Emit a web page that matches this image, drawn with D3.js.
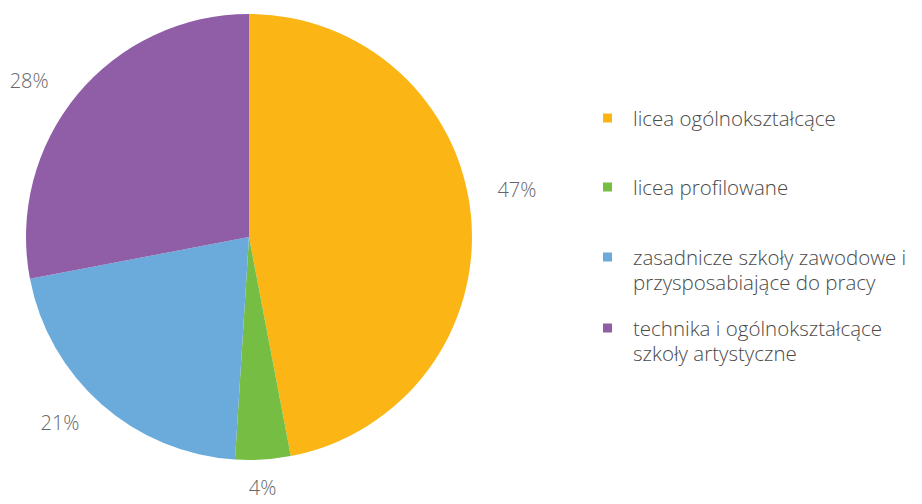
<!DOCTYPE html>
<html>
<head>
<meta charset="utf-8">
<script src="https://cdn.jsdelivr.net/npm/d3@7"></script>
<style>
  html, body { margin: 0; padding: 0; background: #fff; }
  svg { display: block; }
</style>
</head>
<body>
<svg id="chart" width="922" height="504"></svg>
<script>
// School types and their share of students (%)
const categories = [
  "licea ogólnokształcące",
  "licea profilowane",
  "zasadnicze szkoły zawodowe i przysposabiające do pracy",
  "technika i ogólnokształcące szkoły artystyczne"
];
const values = [47, 4, 21, 28];
const legendLines = [
  ["licea ogólnokształcące"],
  ["licea profilowane"],
  ["zasadnicze szkoły zawodowe i", "przysposabiające do pracy"],
  ["technika i ogólnokształcące", "szkoły artystyczne"]
];
const colors = ["#fbb616", "#76bd43", "#6aabdc", "#8f5ea6"];

const svg = d3.select("#chart");
const font = "'Open Sans', 'Noto Sans', sans-serif";

const cx = 249, cy = 237, radius = 223;

const pie = d3.pie().sort(null).value(d => d);
const arcs = pie(values);
const arc = d3.arc().innerRadius(0).outerRadius(radius);

const g = svg.append("g").attr("transform", `translate(${cx},${cy})`);

g.selectAll("path.slice")
  .data(arcs)
  .join("path")
  .attr("class", "slice")
  .attr("d", arc)
  .attr("fill", (d, i) => colors[i]);

// Percentage labels outside the pie: polar placement around each slice's
// mid-angle, with a small per-slice angular shift (degrees) and radius.
const labelShift = [-4.6, 0.5, 4.1, -4.1];
const labelRadius = [272, 251, 265, 270];
function labelPoint(d, i) {
  const a = (d.startAngle + d.endAngle) / 2 + labelShift[i] * Math.PI / 180;
  const r = labelRadius[i];
  return [r * Math.sin(a), -r * Math.cos(a)];
}
g.selectAll("text.pct")
  .data(arcs)
  .join("text")
  .attr("class", "pct")
  .attr("x", (d, i) => labelPoint(d, i)[0])
  .attr("y", (d, i) => labelPoint(d, i)[1])
  .attr("text-anchor", "middle")
  .attr("dominant-baseline", "central")
  .attr("font-family", font)
  .attr("font-weight", 300)
  .attr("font-size", 20)
  .attr("fill", "#666")
  .text(d => d.data + "%");

// Legend
const legendY = [118, 187, 257, 328];
const legend = svg.append("g");
const items = legend.selectAll("g.item")
  .data(categories)
  .join("g")
  .attr("class", "item")
  .attr("transform", (d, i) => `translate(603,${legendY[i]})`);

items.append("rect")
  .attr("x", 0).attr("y", -4.5)
  .attr("width", 9).attr("height", 9)
  .attr("fill", (d, i) => colors[i]);

items.each(function(d, i) {
  const t = d3.select(this).append("text")
    .attr("font-family", font)
    .attr("font-weight", 300)
    .attr("font-size", 20.5)
    .attr("fill", "#4a4a4a");
  legendLines[i].forEach((line, j) => {
    t.append("tspan")
      .attr("x", 30)
      .attr("y", j * 25)
      .attr("dominant-baseline", "central")
      .text(line);
  });
});
</script>
</body>
</html>
